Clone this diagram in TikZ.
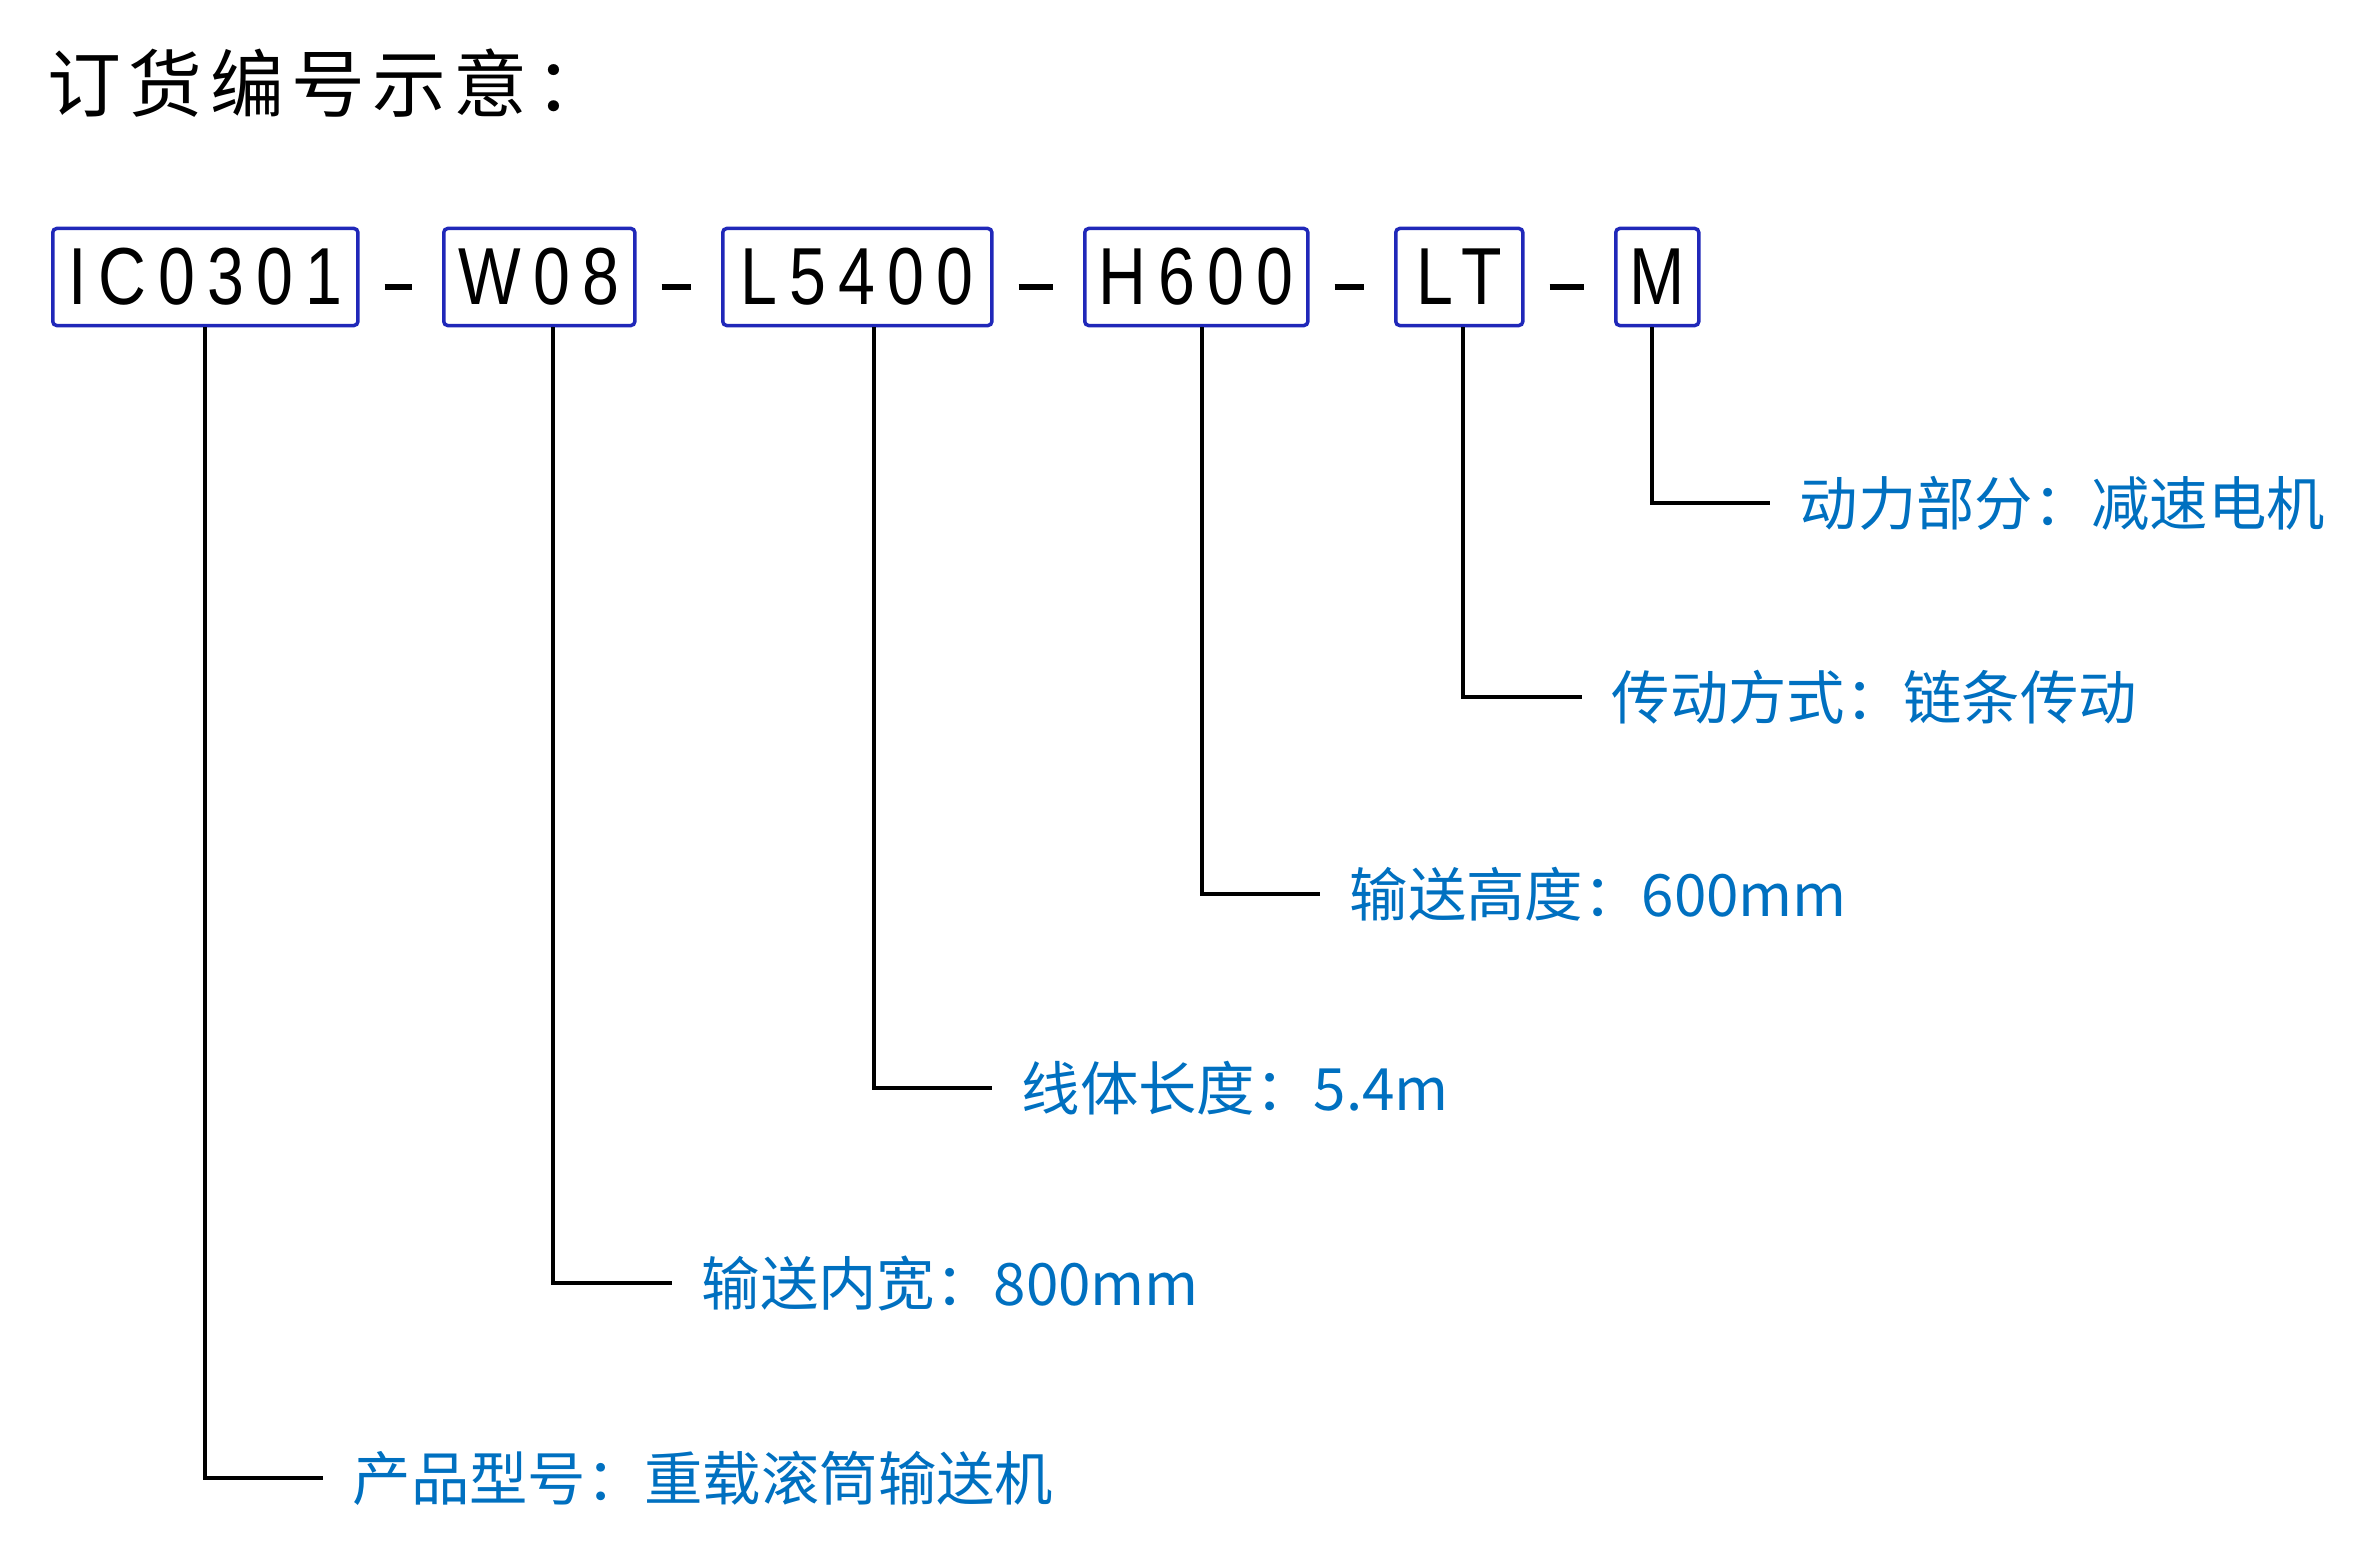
\documentclass[tikz,border=0pt]{standalone}
\usepackage{fontspec}
\setmainfont{Noto Sans CJK SC}
\newfontfamily\titlefont[LetterSpace=10]{Noto Sans CJK SC}
\newfontfamily\notefont{Noto Sans CJK SC}
\newfontfamily\codefont[FakeStretch=0.82,LetterSpace=15]{Liberation Sans}
\definecolor{boxblue}{RGB}{32,40,185}
\definecolor{noteblue}{RGB}{0,112,192}

\tikzset{
	codebox/.style={draw=boxblue, line width=0.035cm, rounded corners=0.04cm, anchor=west,
		minimum height=0.97cm, inner sep=0pt, font=\codefont\fontsize{23}{23}\selectfont},
	note/.style={anchor=west, inner xsep=0.29cm, inner ysep=0pt, text=noteblue,
		font=\notefont\fontsize{16.6}{16.6}\selectfont},
	leader/.style={line width=0.04cm},
	bar/.style={line width=0.05cm}
}

\begin{document}
\begin{tikzpicture}[x=0.01cm,y=-0.01cm]
	\useasboundingbox (0,0) rectangle (2365,1555);
	\node[anchor=west, inner sep=0pt, font=\titlefont\fontsize{21}{21}\selectfont] (title) at (47,83) {订货编号示意：};
	% code boxes
	\node[codebox, minimum width=3.05cm] (ic) at (51,277) {IC0301};
	\node[codebox, minimum width=1.91cm] (w08) at (442,277) {W08};
	\node[codebox, minimum width=2.69cm] (l5400) at (721,277) {L5400};
	\node[codebox, minimum width=2.23cm] (h600) at (1083,277) {H600};
	\node[codebox, minimum width=1.27cm] (lt) at (1394,277) {LT};
	\node[codebox, minimum width=0.83cm] (m) at (1614,277) {M};
	\draw[bar] ([xshift=0.25cm,yshift=-0.1cm]ic.east) -- ([xshift=-0.3cm,yshift=-0.1cm]w08.west);
	\draw[bar] ([xshift=0.25cm,yshift=-0.1cm]w08.east) -- ([xshift=-0.3cm,yshift=-0.1cm]l5400.west);
	\draw[bar] ([xshift=0.25cm,yshift=-0.1cm]l5400.east) -- ([xshift=-0.3cm,yshift=-0.1cm]h600.west);
	\draw[bar] ([xshift=0.25cm,yshift=-0.1cm]h600.east) -- ([xshift=-0.3cm,yshift=-0.1cm]lt.west);
	\draw[bar] ([xshift=0.25cm,yshift=-0.1cm]lt.east) -- ([xshift=-0.3cm,yshift=-0.1cm]m.west);
	% notes
	\node[note] (mnote) at (1770,503) {动力部分：减速电机};
	\node[note] (ltnote) at (1582,697) {传动方式：链条传动};
	\node[note] (hnote) at (1320,894) {输送高度：600mm};
	\node[note] (lnote) at (992,1088) {线体长度：5.4m};
	\node[note] (wnote) at (672,1283) {输送内宽：800mm};
	\node[note] (icnote) at (323,1478) {产品型号：重载滚筒输送机};
	\draw[leader] ([xshift=-0.055cm]m.south) |- (mnote.west);
	\draw[leader] ([xshift=0.035cm]lt.south) |- (ltnote.west);
	\draw[leader] ([xshift=0.055cm]h600.south) |- (hnote.west);
	\draw[leader] ([xshift=0.165cm]l5400.south) |- (lnote.west);
	\draw[leader] ([xshift=0.135cm]w08.south) |- (wnote.west);
	\draw[leader] (ic.south) |- (icnote.west);
\end{tikzpicture}
\end{document}
